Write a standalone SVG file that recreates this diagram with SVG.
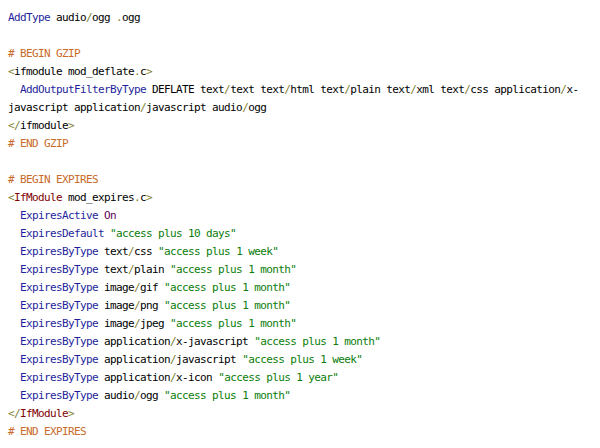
<svg xmlns="http://www.w3.org/2000/svg" width="600" height="448" viewBox="0 0 600 448">
<style>
text{font-family:"DejaVu Sans Mono","Liberation Mono",monospace;font-size:11px;letter-spacing:-0.62px;fill:#000;white-space:pre}
.d{fill:#1f1f9c}.c{fill:#c86a2a}.s{fill:#0a7d0a}.p{fill:#808030}.t{fill:#800000}.v{fill:#600050}
</style>
<rect width="600" height="448" fill="#fff"/>
<g id="code" xml:space="preserve">
<text x="8" y="21"><tspan class="d">AddType</tspan> audio<tspan class="p">/</tspan>ogg <tspan class="p">.</tspan>ogg</text>
<text x="8" y="57" class="c"># BEGIN GZIP</text>
<text x="8" y="75"><tspan class="p">&lt;</tspan>ifmodule mod_deflate<tspan class="p">.</tspan>c<tspan class="p">&gt;</tspan></text>
<text x="20" y="93"><tspan class="d">AddOutputFilterByType</tspan> DEFLATE text<tspan class="p">/</tspan>text text<tspan class="p">/</tspan>html text<tspan class="p">/</tspan>plain text<tspan class="p">/</tspan>xml text<tspan class="p">/</tspan>css application<tspan class="p">/</tspan>x-</text>
<text x="8" y="111">javascript application<tspan class="p">/</tspan>javascript audio<tspan class="p">/</tspan>ogg</text>
<text x="8" y="129"><tspan class="p">&lt;/</tspan>ifmodule<tspan class="p">&gt;</tspan></text>
<text x="8" y="147" class="c"># END GZIP</text>
<text x="8" y="183" class="c"># BEGIN EXPIRES</text>
<text x="8" y="201"><tspan class="p">&lt;</tspan><tspan class="t">IfModule</tspan> mod_expires<tspan class="p">.</tspan>c<tspan class="p">&gt;</tspan></text>
<text x="20" y="219"><tspan class="d">ExpiresActive</tspan> <tspan class="v">On</tspan></text>
<text x="20" y="237"><tspan class="d">ExpiresDefault</tspan> <tspan class="s">"access plus 10 days"</tspan></text>
<text x="20" y="255"><tspan class="d">ExpiresByType</tspan> text<tspan class="p">/</tspan>css <tspan class="s">"access plus 1 week"</tspan></text>
<text x="20" y="273"><tspan class="d">ExpiresByType</tspan> text<tspan class="p">/</tspan>plain <tspan class="s">"access plus 1 month"</tspan></text>
<text x="20" y="291"><tspan class="d">ExpiresByType</tspan> image<tspan class="p">/</tspan>gif <tspan class="s">"access plus 1 month"</tspan></text>
<text x="20" y="309"><tspan class="d">ExpiresByType</tspan> image<tspan class="p">/</tspan>png <tspan class="s">"access plus 1 month"</tspan></text>
<text x="20" y="327"><tspan class="d">ExpiresByType</tspan> image<tspan class="p">/</tspan>jpeg <tspan class="s">"access plus 1 month"</tspan></text>
<text x="20" y="345"><tspan class="d">ExpiresByType</tspan> application<tspan class="p">/</tspan>x-javascript <tspan class="s">"access plus 1 month"</tspan></text>
<text x="20" y="363"><tspan class="d">ExpiresByType</tspan> application<tspan class="p">/</tspan>javascript <tspan class="s">"access plus 1 week"</tspan></text>
<text x="20" y="381"><tspan class="d">ExpiresByType</tspan> application<tspan class="p">/</tspan>x-icon <tspan class="s">"access plus 1 year"</tspan></text>
<text x="20" y="399"><tspan class="d">ExpiresByType</tspan> audio<tspan class="p">/</tspan>ogg <tspan class="s">"access plus 1 month"</tspan></text>
<text x="8" y="417"><tspan class="p">&lt;/</tspan><tspan class="t">IfModule</tspan><tspan class="p">&gt;</tspan></text>
<text x="8" y="435" class="c"># END EXPIRES</text>
</g>
</svg>
